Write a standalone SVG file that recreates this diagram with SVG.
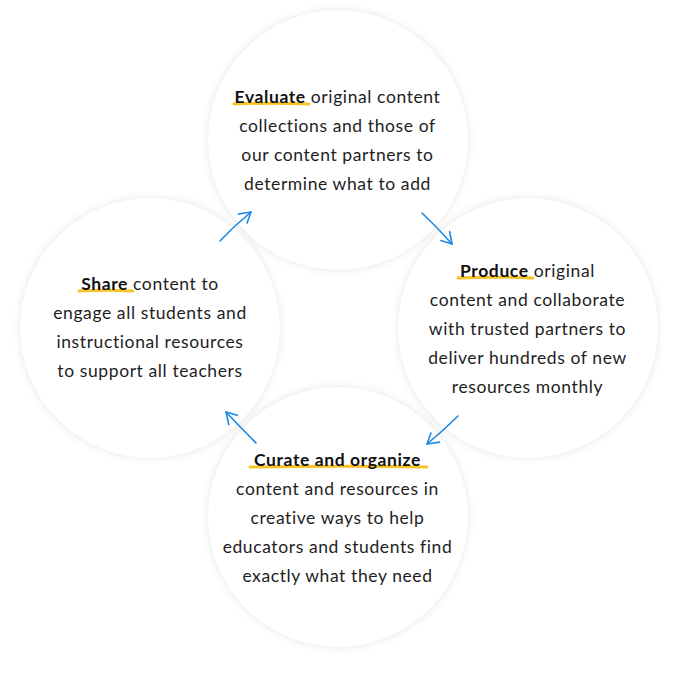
<svg xmlns="http://www.w3.org/2000/svg" width="678" height="677" viewBox="0 0 678 677">
<style>
  .txt { font-family: Lato, "Liberation Sans", sans-serif; font-size: 17.5px; letter-spacing: 0.6px; fill: #1e1e1e; text-anchor: middle; }
  .b { font-weight: bold; fill: #111; }
  .hl { fill: none; stroke: #f7c325; stroke-width: 3; stroke-linecap: round; }
  .shadow { fill: #000; opacity: 0.10; filter: url(#blur); }
  .disc { fill: #fff; }
  .arr { fill: none; stroke: #1c88e3; stroke-width: 1.6; stroke-linecap: round; marker-end: url(#head); }
</style>
<defs>
  <filter id="blur" x="-20%" y="-20%" width="140%" height="140%">
    <feGaussianBlur stdDeviation="4"/>
  </filter>
  <marker id="head" markerUnits="userSpaceOnUse" markerWidth="20" markerHeight="20" refX="0" refY="0" viewBox="-14 -10 18 20" orient="auto">
    <path d="M-11,-6.5 L0,0 L-10,6" fill="none" stroke="#1c88e3" stroke-width="1.6" stroke-linecap="round" stroke-linejoin="round"/>
  </marker>
</defs>
<rect width="678" height="677" fill="#fff"/>
<g id="shadows">
  <circle class="shadow" cx="338" cy="140" r="130"/>
  <circle class="shadow" cx="528" cy="328" r="130"/>
  <circle class="shadow" cx="338" cy="517" r="130"/>
  <circle class="shadow" cx="150" cy="328" r="130"/>
</g>
<g id="node-evaluate">
  <circle class="disc" cx="338" cy="140" r="130"/>
  <path class="hl" d="M234,104 Q270,102.5 309,104"/>
  <text class="txt" x="337.5" y="103"><tspan class="b">Evaluate</tspan> original content</text>
  <text class="txt" x="337.5" y="132">collections and those of</text>
  <text class="txt" x="337.5" y="161">our content partners to</text>
  <text class="txt" x="337.5" y="190">determine what to add</text>
</g>
<g id="node-produce">
  <circle class="disc" cx="528" cy="328" r="130"/>
  <path class="hl" d="M458,278 Q495,276.5 533,278"/>
  <text class="txt" x="527.5" y="277"><tspan class="b">Produce</tspan> original</text>
  <text class="txt" x="527.5" y="306">content and collaborate</text>
  <text class="txt" x="527.5" y="335">with trusted partners to</text>
  <text class="txt" x="527.5" y="364">deliver hundreds of new</text>
  <text class="txt" x="527.5" y="393">resources monthly</text>
</g>
<g id="node-curate">
  <circle class="disc" cx="338" cy="517" r="130"/>
  <path class="hl" d="M250,467 Q340,465.5 427,467"/>
  <text class="txt" x="337.5" y="466"><tspan class="b">Curate and organize</tspan></text>
  <text class="txt" x="337.5" y="495">content and resources in</text>
  <text class="txt" x="337.5" y="524">creative ways to help</text>
  <text class="txt" x="337.5" y="553">educators and students find</text>
  <text class="txt" x="337.5" y="582">exactly what they need</text>
</g>
<g id="node-share">
  <circle class="disc" cx="150" cy="328" r="130"/>
  <path class="hl" d="M79,291 Q105,289.5 133,291"/>
  <text class="txt" x="150" y="290"><tspan class="b">Share</tspan> content to</text>
  <text class="txt" x="150" y="319">engage all students and</text>
  <text class="txt" x="150" y="348">instructional resources</text>
  <text class="txt" x="150" y="377">to support all teachers</text>
</g>
<g id="connectors">
  <path class="arr" d="M220,241 Q234,226 251,212"/>
  <path class="arr" d="M422,213 Q437,227 452,244"/>
  <path class="arr" d="M458,416 Q443,431 427,444"/>
  <path class="arr" d="M256,443 Q241,428 226,412"/>
</g>
</svg>
